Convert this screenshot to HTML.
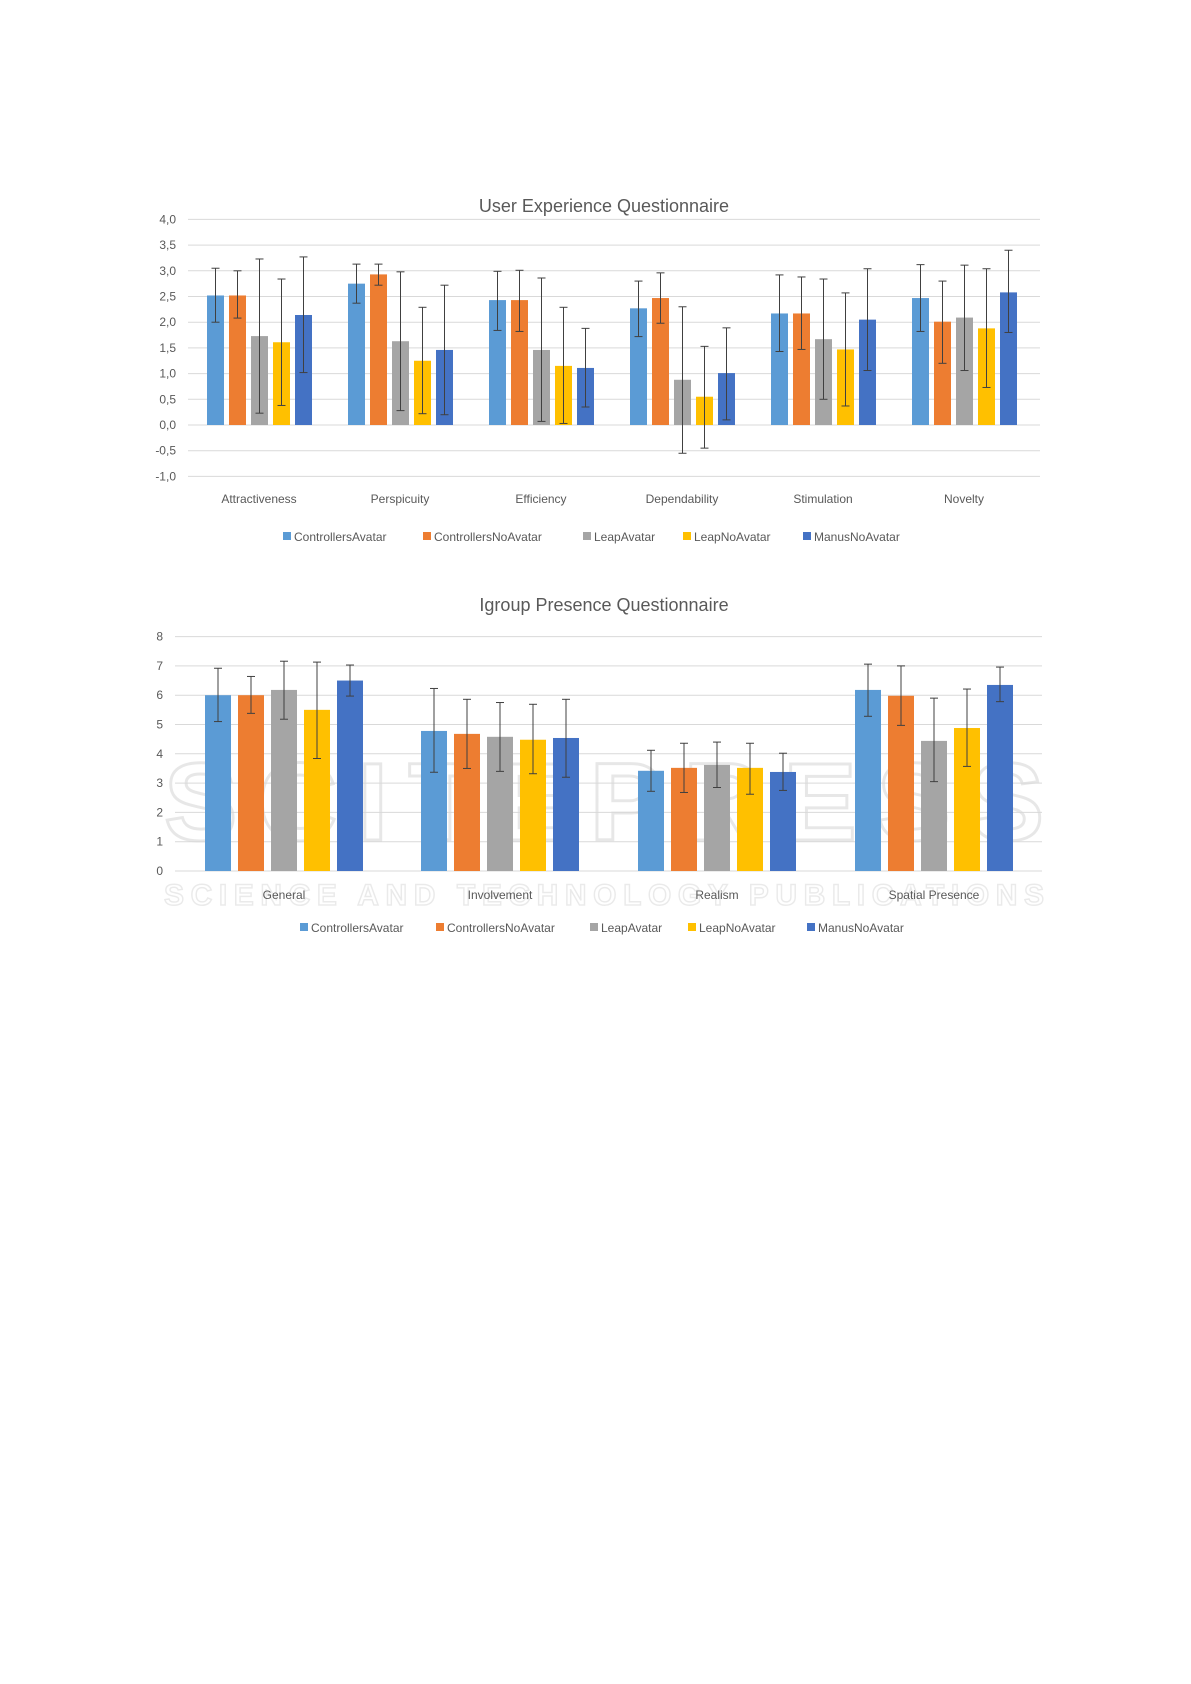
<!DOCTYPE html>
<html><head><meta charset="utf-8"><style>
html,body{margin:0;padding:0;background:#fff}
svg{display:block}
text{font-family:"Liberation Sans",sans-serif;fill:#595959}
</style></head><body>
<svg id="s" width="1191" height="1684" xmlns="http://www.w3.org/2000/svg"></svg>
<script>
const S=document.getElementById('s');const NS='http://www.w3.org/2000/svg';
function el(t,a,txt){const e=document.createElementNS(NS,t);for(const k in a)e.setAttribute(k,a[k]);if(txt!==undefined)e.textContent=txt;S.appendChild(e);return e;}
const C=['#5b9bd5','#ed7d31','#a5a5a5','#ffc000','#4472c4'];
const names=['ControllersAvatar','ControllersNoAvatar','LeapAvatar','LeapNoAvatar','ManusNoAvatar'];
// faint watermark (behind)
el('text',{x:604,y:840,'text-anchor':'middle','font-size':110,'font-weight':'bold',style:'fill:none;stroke:#000;stroke-width:3;opacity:0.09',textLength:880},'SCITEPRESS');
el('text',{x:604,y:905,'text-anchor':'middle','font-size':30,'font-weight':'bold',style:'fill:none;stroke:#000;stroke-width:1.5;opacity:0.08',textLength:880},'SCIENCE AND TECHNOLOGY PUBLICATIONS');
// Chart 1
(function(){
 const y0=425,u=51.4,L=188,R=1040;
 for(let v=-1;v<=4;v+=0.5){const y=y0-v*u;el('line',{x1:L,x2:R,y1:y,y2:y,stroke:'#d9d9d9','stroke-width':1});
  el('text',{x:176,y:y+4,'text-anchor':'end','font-size':12},v.toFixed(1).replace('.',','));}
 el('text',{x:604,y:212,'text-anchor':'middle','font-size':18},'User Experience Questionnaire');
 const cats=['Attractiveness','Perspicuity','Efficiency','Dependability','Stimulation','Novelty'];
 const d=[
 [[2.52,2.0,3.05],[2.52,2.08,3.0],[1.73,0.23,3.23],[1.61,0.38,2.84],[2.14,1.02,3.27]],
 [[2.75,2.37,3.13],[2.93,2.72,3.13],[1.63,0.28,2.98],[1.25,0.22,2.29],[1.46,0.2,2.72]],
 [[2.43,1.84,2.99],[2.43,1.82,3.01],[1.46,0.07,2.86],[1.15,0.03,2.29],[1.11,0.35,1.88]],
 [[2.27,1.72,2.8],[2.47,1.98,2.96],[0.88,-0.55,2.3],[0.55,-0.45,1.53],[1.01,0.1,1.89]],
 [[2.17,1.43,2.92],[2.17,1.47,2.88],[1.67,0.5,2.84],[1.47,0.37,2.57],[2.05,1.06,3.04]],
 [[2.47,1.82,3.12],[2.01,1.2,2.8],[2.09,1.06,3.11],[1.88,0.73,3.04],[2.58,1.8,3.4]]];
 cats.forEach((c,i)=>{const gx=207+i*141;
  el('text',{x:gx+52,y:503,'text-anchor':'middle','font-size':12},c);
  d[i].forEach((b,j)=>{const x=gx+j*22,w=17;const yv=y0-b[0]*u;
   el('rect',{x:x,y:Math.min(yv,y0),width:w,height:Math.abs(y0-yv),fill:C[j]});
   const cx=x+w/2,ya=y0-b[1]*u,yb=y0-b[2]*u;
   el('line',{x1:cx,x2:cx,y1:ya,y2:yb,stroke:'#404040','stroke-width':1});
   el('line',{x1:cx-4,x2:cx+4,y1:ya,y2:ya,stroke:'#404040','stroke-width':1});
   el('line',{x1:cx-4,x2:cx+4,y1:yb,y2:yb,stroke:'#404040','stroke-width':1});});});
 let lx=[283,423,583,683,803];
 names.forEach((n,j)=>{el('rect',{x:lx[j],y:532,width:8,height:8,fill:C[j]});el('text',{x:lx[j]+11,y:541,'font-size':12},n);});
})();
// Chart 2
(function(){
 const y0=871,u=29.3,L=175,R=1042;
 for(let v=0;v<=8;v++){const y=y0-v*u;el('line',{x1:L,x2:R,y1:y,y2:y,stroke:'#d9d9d9','stroke-width':1});
  el('text',{x:163,y:y+4,'text-anchor':'end','font-size':12},String(v));}
 el('text',{x:604,y:611,'text-anchor':'middle','font-size':18},'Igroup Presence Questionnaire');
 const cats=['General','Involvement','Realism','Spatial Presence'];
 const d=[
 [[6.0,5.1,6.92],[6.0,5.38,6.64],[6.18,5.18,7.16],[5.5,3.84,7.13],[6.5,5.97,7.03]],
 [[4.78,3.37,6.23],[4.68,3.5,5.86],[4.58,3.4,5.75],[4.48,3.32,5.69],[4.54,3.2,5.86]],
 [[3.42,2.72,4.12],[3.52,2.68,4.36],[3.62,2.85,4.4],[3.52,2.62,4.36],[3.38,2.75,4.02]],
 [[6.18,5.28,7.06],[5.98,4.97,7.0],[4.44,3.05,5.9],[4.88,3.57,6.21],[6.35,5.78,6.96]]];
 const gs=[205,421,638,855];
 cats.forEach((c,i)=>{const gx=gs[i];
  el('text',{x:gx+79,y:899,'text-anchor':'middle','font-size':12},c);
  d[i].forEach((b,j)=>{const x=gx+j*33,w=26;const yv=y0-b[0]*u;
   el('rect',{x:x,y:yv,width:w,height:y0-yv,fill:C[j]});
   const cx=x+w/2,ya=y0-b[1]*u,yb=y0-b[2]*u;
   el('line',{x1:cx,x2:cx,y1:ya,y2:yb,stroke:'#404040','stroke-width':1});
   el('line',{x1:cx-4,x2:cx+4,y1:ya,y2:ya,stroke:'#404040','stroke-width':1});
   el('line',{x1:cx-4,x2:cx+4,y1:yb,y2:yb,stroke:'#404040','stroke-width':1});});});
 let lx=[300,436,590,688,807];
 names.forEach((n,j)=>{el('rect',{x:lx[j],y:923,width:8,height:8,fill:C[j]});el('text',{x:lx[j]+11,y:932,'font-size':12},n);});
})();
</script>
</body></html>
